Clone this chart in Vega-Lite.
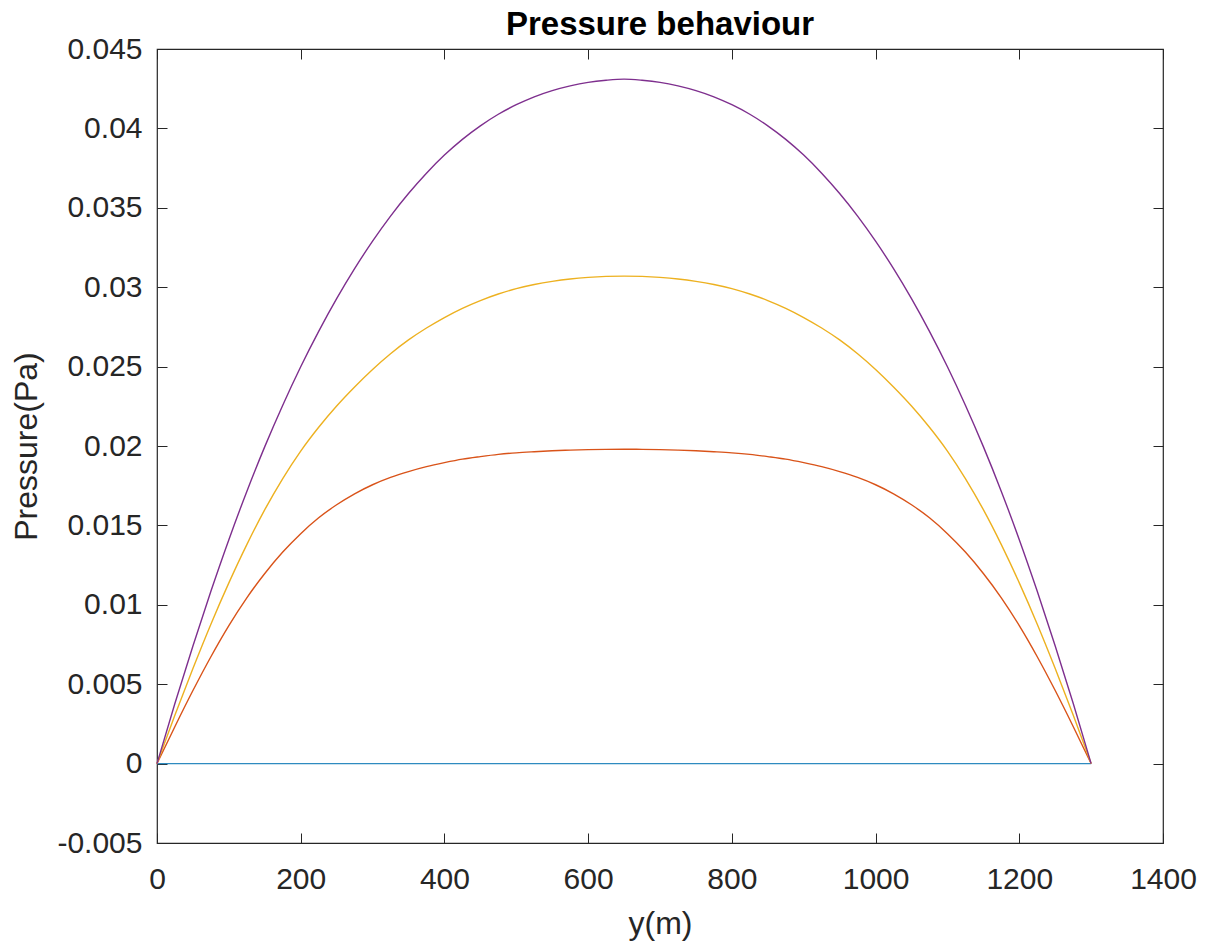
{
  "$schema": "https://vega.github.io/schema/vega-lite/v6.json",
  "autosize": {"type": "none"},
  "width": 1006,
  "height": 794,
  "padding": {"left": 157, "top": 49, "right": 44, "bottom": 106},
  "background": "white",
  "title": {"text": "Pressure behaviour", "font": "Liberation Sans", "fontSize": 33, "fontWeight": "bold", "color": "#000000", "anchor": "middle", "offset": 8, "dy": 16, "frame": "group"},
  "config": {
    "view": {"stroke": "#262626", "strokeWidth": 1.2},
    "axis": {"grid": false, "domain": false, "labelFlush": false, "labelOverlap": false, "tickColor": "#262626", "tickWidth": 1, "tickSize": -10, "labelFont": "Liberation Sans", "labelFontSize": 30, "labelColor": "#262626", "titleFont": "Liberation Sans", "titleFontSize": 32, "titleFontWeight": "normal", "titleColor": "#262626"}
  },
  "data": {"values": [
    {"x": 0, "blue": 0, "red": 0, "yellow": 0, "purple": 0},
    {"x": 25, "blue": 0, "red": 0.00234, "yellow": 0.00306, "purple": 0.0038},
    {"x": 50, "blue": 0, "red": 0.0046, "yellow": 0.00599, "purple": 0.00741},
    {"x": 75, "blue": 0, "red": 0.00673, "yellow": 0.00878, "purple": 0.01085},
    {"x": 100, "blue": 0, "red": 0.00869, "yellow": 0.01138, "purple": 0.0141},
    {"x": 125, "blue": 0, "red": 0.01044, "yellow": 0.01379, "purple": 0.01714},
    {"x": 150, "blue": 0, "red": 0.01197, "yellow": 0.01599, "purple": 0.01996},
    {"x": 175, "blue": 0, "red": 0.01332, "yellow": 0.01795, "purple": 0.02257},
    {"x": 200, "blue": 0, "red": 0.01448, "yellow": 0.01968, "purple": 0.02499},
    {"x": 225, "blue": 0, "red": 0.01548, "yellow": 0.02118, "purple": 0.02722},
    {"x": 250, "blue": 0, "red": 0.0163, "yellow": 0.02252, "purple": 0.02928},
    {"x": 275, "blue": 0, "red": 0.01699, "yellow": 0.02372, "purple": 0.03117},
    {"x": 300, "blue": 0, "red": 0.01756, "yellow": 0.02482, "purple": 0.0329},
    {"x": 325, "blue": 0, "red": 0.01802, "yellow": 0.02581, "purple": 0.03448},
    {"x": 350, "blue": 0, "red": 0.01839, "yellow": 0.02668, "purple": 0.0359},
    {"x": 375, "blue": 0, "red": 0.0187, "yellow": 0.02743, "purple": 0.03718},
    {"x": 400, "blue": 0, "red": 0.01895, "yellow": 0.02809, "purple": 0.03832},
    {"x": 425, "blue": 0, "red": 0.01917, "yellow": 0.02867, "purple": 0.03931},
    {"x": 450, "blue": 0, "red": 0.01933, "yellow": 0.02916, "purple": 0.04016},
    {"x": 475, "blue": 0, "red": 0.01947, "yellow": 0.02957, "purple": 0.04089},
    {"x": 500, "blue": 0, "red": 0.01957, "yellow": 0.02991, "purple": 0.04149},
    {"x": 525, "blue": 0, "red": 0.01964, "yellow": 0.03017, "purple": 0.04199},
    {"x": 550, "blue": 0, "red": 0.0197, "yellow": 0.03037, "purple": 0.04238},
    {"x": 575, "blue": 0, "red": 0.01974, "yellow": 0.03052, "purple": 0.04268},
    {"x": 600, "blue": 0, "red": 0.01977, "yellow": 0.03062, "purple": 0.0429},
    {"x": 625, "blue": 0, "red": 0.01979, "yellow": 0.03068, "purple": 0.04303},
    {"x": 650, "blue": 0, "red": 0.0198, "yellow": 0.0307, "purple": 0.0431},
    {"x": 675, "blue": 0, "red": 0.01979, "yellow": 0.03068, "purple": 0.04303},
    {"x": 700, "blue": 0, "red": 0.01977, "yellow": 0.03062, "purple": 0.0429},
    {"x": 725, "blue": 0, "red": 0.01974, "yellow": 0.03052, "purple": 0.04268},
    {"x": 750, "blue": 0, "red": 0.0197, "yellow": 0.03037, "purple": 0.04238},
    {"x": 775, "blue": 0, "red": 0.01964, "yellow": 0.03017, "purple": 0.04199},
    {"x": 800, "blue": 0, "red": 0.01957, "yellow": 0.02991, "purple": 0.04149},
    {"x": 825, "blue": 0, "red": 0.01947, "yellow": 0.02957, "purple": 0.04089},
    {"x": 850, "blue": 0, "red": 0.01933, "yellow": 0.02916, "purple": 0.04016},
    {"x": 875, "blue": 0, "red": 0.01917, "yellow": 0.02867, "purple": 0.03931},
    {"x": 900, "blue": 0, "red": 0.01895, "yellow": 0.02809, "purple": 0.03832},
    {"x": 925, "blue": 0, "red": 0.0187, "yellow": 0.02743, "purple": 0.03718},
    {"x": 950, "blue": 0, "red": 0.01839, "yellow": 0.02668, "purple": 0.0359},
    {"x": 975, "blue": 0, "red": 0.01802, "yellow": 0.02581, "purple": 0.03448},
    {"x": 1000, "blue": 0, "red": 0.01756, "yellow": 0.02482, "purple": 0.0329},
    {"x": 1025, "blue": 0, "red": 0.01699, "yellow": 0.02372, "purple": 0.03117},
    {"x": 1050, "blue": 0, "red": 0.0163, "yellow": 0.02252, "purple": 0.02928},
    {"x": 1075, "blue": 0, "red": 0.01548, "yellow": 0.02118, "purple": 0.02722},
    {"x": 1100, "blue": 0, "red": 0.01448, "yellow": 0.01968, "purple": 0.02499},
    {"x": 1125, "blue": 0, "red": 0.01332, "yellow": 0.01795, "purple": 0.02257},
    {"x": 1150, "blue": 0, "red": 0.01197, "yellow": 0.01599, "purple": 0.01996},
    {"x": 1175, "blue": 0, "red": 0.01044, "yellow": 0.01379, "purple": 0.01714},
    {"x": 1200, "blue": 0, "red": 0.00869, "yellow": 0.01138, "purple": 0.0141},
    {"x": 1225, "blue": 0, "red": 0.00673, "yellow": 0.00878, "purple": 0.01085},
    {"x": 1250, "blue": 0, "red": 0.0046, "yellow": 0.00599, "purple": 0.00741},
    {"x": 1275, "blue": 0, "red": 0.00234, "yellow": 0.00306, "purple": 0.0038},
    {"x": 1300, "blue": 0, "red": 0, "yellow": 0, "purple": 0}
  ]},
  "transform": [{"fold": ["blue", "red", "yellow", "purple"], "as": ["s", "p"]}],
  "layer": [
    {
      "mark": {"type": "line", "interpolate": "monotone", "strokeWidth": 1.4},
      "encoding": {
        "x": {"field": "x", "type": "quantitative", "scale": {"domain": [0, 1400], "nice": false, "zero": false},
              "axis": {"orient": "bottom", "values": [0, 200, 400, 600, 800, 1000, 1200, 1400], "format": "d", "labelPadding": 31, "title": "y(m)", "titleX": 503, "titleY": 90, "titleAlign": "center", "titleBaseline": "alphabetic"}},
        "y": {"field": "p", "type": "quantitative", "scale": {"domain": [-0.005, 0.045], "nice": false, "zero": false},
              "axis": {"orient": "left", "values": [-0.005, 0, 0.005, 0.01, 0.015, 0.02, 0.025, 0.03, 0.035, 0.04, 0.045], "format": "~g", "labelExpr": "replace(datum.label, '\u2212', '-')", "labelPadding": 25, "title": "Pressure(Pa)", "titleX": -121, "titleY": 397, "titleAngle": -90, "titleAlign": "center", "titleBaseline": "alphabetic"}},
        "color": {"field": "s", "type": "nominal", "scale": {"domain": ["blue", "red", "yellow", "purple"], "range": ["#2E8BC0", "#D95319", "#EDB120", "#7E2F8E"]}, "legend": null}
      }
    },
    {
      "mark": {"type": "line", "opacity": 0},
      "encoding": {
        "x": {"field": "x", "type": "quantitative", "axis": {"orient": "top", "values": [0, 200, 400, 600, 800, 1000, 1200, 1400], "labels": false, "title": null}},
        "y": {"field": "p", "type": "quantitative", "axis": {"orient": "right", "values": [-0.005, 0, 0.005, 0.01, 0.015, 0.02, 0.025, 0.03, 0.035, 0.04, 0.045], "labels": false, "title": null}},
        "detail": {"field": "s", "type": "nominal"}
      }
    }
  ],
  "resolve": {"axis": {"x": "independent", "y": "independent"}}
}
